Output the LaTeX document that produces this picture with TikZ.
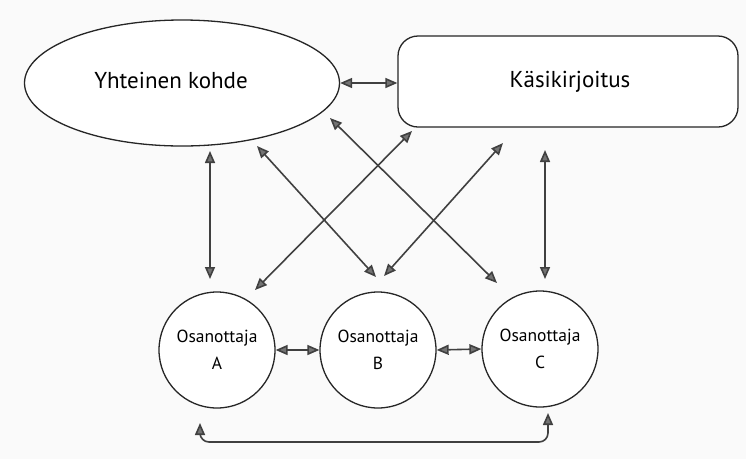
\documentclass[tikz,border=0pt]{standalone}
\usepackage{fontspec}
\setmainfont{PT Sans}
\usetikzlibrary{shapes.geometric,arrows.meta}
\begin{document}
\begin{tikzpicture}[x=1pt,y=-1pt,
  box/.style={draw=black!85, line width=1.3pt, fill=white, inner sep=0pt},
  arr/.style={draw=black!75, line width=1.6pt,
    {Triangle[length=12pt,width=10pt,fill=black!55]}-{Triangle[length=12pt,width=10pt,fill=black!55]}},
  big/.style={font=\fontsize{23}{27}\selectfont},
  small/.style={font=\fontsize{17.5}{27}\selectfont, align=center}]
\fill[black!2] (0,0) rectangle (746,459);
\useasboundingbox (0,0) rectangle (746,459);
\node[box, ellipse, minimum width=315pt, minimum height=126pt] (ell) at (182,83) {};
\node[big] (ellt) at (171,80) {Yhteinen kohde};
\node[box, rounded corners=20pt, minimum width=340pt, minimum height=91pt] (rect) at (568,81.5) {};
\node[big] (rectt) at (570,82) {Käsikirjoitus};
\node[box, circle, minimum size=116pt, small] (A) at (217,350) {Osanottaja\\A};
\node[box, circle, minimum size=116pt, small] (B) at (378,350) {Osanottaja\\B};
\node[box, circle, minimum size=116pt, small] (C) at (540,349) {Osanottaja\\C};
% arrow ends
\coordinate (l1) at (210,151); \coordinate (l2) at (210,279);
\coordinate (r1) at (545,150); \coordinate (r2) at (545,279);
\coordinate (d1a) at (257,146); \coordinate (d1b) at (376,277);
\coordinate (d2a) at (330,118); \coordinate (d2b) at (497,283);
\coordinate (d3a) at (412,131); \coordinate (d3b) at (255,290);
\coordinate (d4a) at (503,143); \coordinate (d4b) at (384,276);
\coordinate (ba) at (200,423); \coordinate (bc) at (548,413);
\draw[arr] (ell.east) -- (ell.east -| rect.west);
\draw[arr] (A.east) -- (B.west);
\draw[arr] (B.east) -- (C.west);
\draw[arr] (l1) -- (l2);
\draw[arr] (r1) -- (r2);
\draw[arr] (d1a) -- (d1b);
\draw[arr] (d2a) -- (d2b);
\draw[arr] (d3a) -- (d3b);
\draw[arr] (d4a) -- (d4b);
\draw[arr, rounded corners=9pt] (ba) -- (200,442) -- (548,442) -- (bc);
\end{tikzpicture}
\end{document}
